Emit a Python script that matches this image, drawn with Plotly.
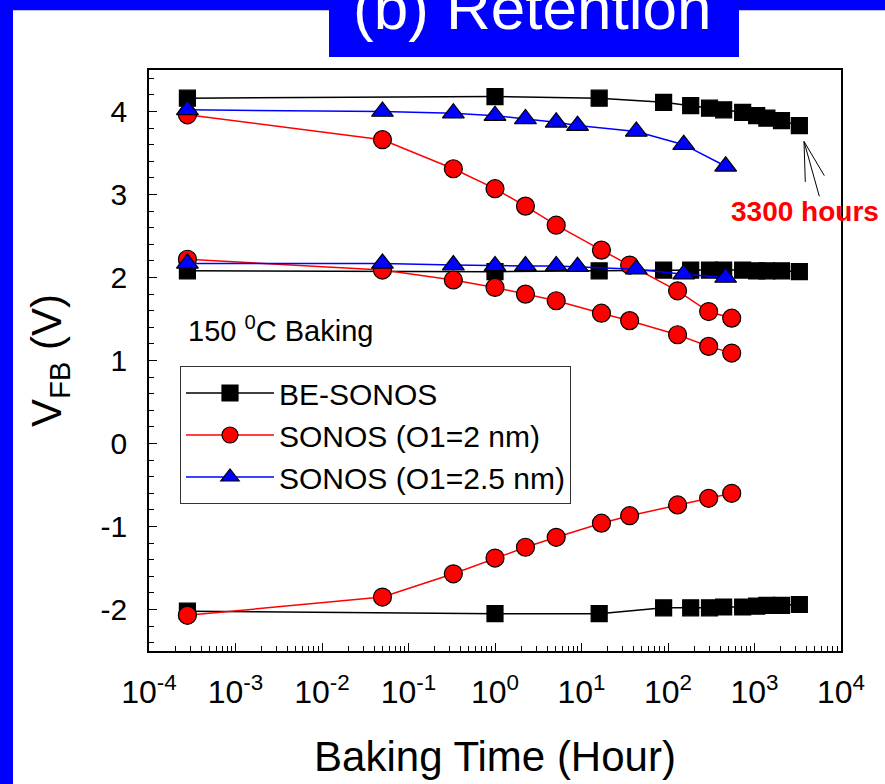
import plotly.graph_objects as go

# ---- data ----
t_be = [2.78e-4, 1, 16, 89, 183, 302, 440, 730, 1060, 1390, 2050, 3300]
be_prog = [4.16, 4.18, 4.16, 4.11, 4.07, 4.04, 4.02, 3.99, 3.95, 3.92, 3.89, 3.83]
be_mid = [2.08, 2.07, 2.08, 2.09, 2.09, 2.09, 2.09, 2.09, 2.08, 2.08, 2.08, 2.07]
be_ers = [-2.02, -2.05, -2.05, -1.98, -1.98, -1.98, -1.97, -1.97, -1.96, -1.95, -1.95, -1.94]

t_s2 = [2.78e-4, 0.05, 0.33, 1, 2.25, 5.1, 17, 36, 129, 295, 545]
s2_prog = [3.96, 3.66, 3.31, 3.07, 2.86, 2.63, 2.33, 2.15, 1.84, 1.59, 1.51]
s2_mid = [2.22, 2.09, 1.97, 1.88, 1.80, 1.72, 1.57, 1.48, 1.31, 1.17, 1.09]
s2_ers = [-2.07, -1.85, -1.57, -1.38, -1.25, -1.13, -0.96, -0.87, -0.74, -0.66, -0.60]

t_s25 = [2.78e-4, 0.05, 0.33, 1, 2.25, 5.1, 9, 43, 152, 464]
s25_prog = [4.02, 4.00, 3.98, 3.95, 3.91, 3.87, 3.83, 3.76, 3.60, 3.34]
s25_mid = [2.17, 2.17, 2.15, 2.14, 2.14, 2.14, 2.13, 2.10, 2.04, 2.00]

names = ["BE-SONOS", "SONOS (O1=2 nm)", "SONOS (O1=2.5 nm)"]
x_tickvals = [1e-4, 1e-3, 1e-2, 1e-1, 1e0, 1e1, 1e2, 1e3, 1e4]
x_ticktext = ["10<sup>-4</sup>", "10<sup>-3</sup>", "10<sup>-2</sup>", "10<sup>-1</sup>",
              "10<sup>0</sup>", "10<sup>1</sup>", "10<sup>2</sup>", "10<sup>3</sup>", "10<sup>4</sup>"]
y_tickvals = [-2, -1, 0, 1, 2, 3, 4]
y_ticktext = ["-2", "-1", "0", "1", "2", "3", "4"]

FONT = "Liberation Sans, Arial, sans-serif"

fig = go.Figure()

series = [
    (t_be, [be_prog, be_mid, be_ers], names[0], "black", "square", 16, "black"),
    (t_s2, [s2_prog, s2_mid, s2_ers], names[1], "red", "circle", 18, "red"),
    (t_s25, [s25_prog, s25_mid], names[2], "blue", "triangle-up", 19, "blue"),
]
for t, ys, name, lc, sym, sz, fc in series:
    for i, y in enumerate(ys):
        fig.add_trace(go.Scatter(
            x=t, y=y, mode="lines+markers", name=name, legendgroup=name,
            showlegend=(i == 0),
            line=dict(color=lc, width=1.5),
            marker=dict(symbol=sym, size=sz, color=fc,
                        line=dict(color="black", width=1.2)),
        ))

# paper-coordinate helpers for decorations (plot area 149..841 x 70..653 px)
def px(x):
    return (x - 149) / 692.0

def py(y):
    return (653 - y) / 583.0

shapes = [
    # blue frame strips
    dict(type="rect", xref="paper", yref="paper", x0=px(-5), x1=px(13), y0=py(800), y1=py(-5),
         fillcolor="#0000ff", line=dict(width=0), layer="above"),
    dict(type="rect", xref="paper", yref="paper", x0=px(-5), x1=px(890), y0=py(10), y1=py(-5),
         fillcolor="#0000ff", line=dict(width=0), layer="above"),
    # title box
    dict(type="rect", xref="paper", yref="paper", x0=px(329), x1=px(739), y0=py(57), y1=py(-5),
         fillcolor="#0000ff", line=dict(width=0), layer="above"),
    # pointer lines to the 3300 hours point
    dict(type="line", xref="paper", yref="paper", x0=px(804), y0=py(141.7), x1=px(805.3), y1=py(182.3),
         line=dict(color="black", width=1)),
    dict(type="line", xref="paper", yref="paper", x0=px(804), y0=py(141.7), x1=px(819.3), y1=py(196.7),
         line=dict(color="black", width=1)),
    dict(type="line", xref="paper", yref="paper", x0=px(804), y0=py(141.7), x1=px(824.3), y1=py(176),
         line=dict(color="black", width=1)),
]

annotations = [
    dict(text="(b) Retention", xref="paper", yref="paper", x=px(532), y=py(7),
         xanchor="center", yanchor="middle", showarrow=False,
         font=dict(family=FONT, size=62, color="white")),
    dict(text="<b>3300 hours</b>", xref="paper", yref="paper", x=px(729), y=py(212),
         xanchor="left", yanchor="middle", showarrow=False,
         font=dict(family=FONT, size=28, color="red")),
    dict(text="150 <sup>0</sup>C Baking", xref="paper", yref="paper", x=px(186), y=py(330),
         xanchor="left", yanchor="middle", showarrow=False,
         font=dict(family=FONT, size=29, color="black")),
]

fig.update_layout(
    width=885, height=784,
    margin=dict(l=149, r=44, t=70, b=131),
    paper_bgcolor="white", plot_bgcolor="white",
    font=dict(family=FONT, color="black"),
    shapes=shapes, annotations=annotations,
    legend=dict(x=px(180), y=py(367), xanchor="left", yanchor="top",
                bgcolor="white", bordercolor="#333333", borderwidth=1,
                font=dict(family=FONT, size=30), itemwidth=88,
                tracegroupgap=0),
    showlegend=True,
)

fig.update_xaxes(
    type="log", range=[-4, 4],
    tickvals=x_tickvals, ticktext=x_ticktext,
    ticks="inside", ticklen=8, tickwidth=1, tickcolor="black",
    minor=dict(ticks="inside", ticklen=5, tickwidth=1, tickcolor="black", dtick="D1"),
    showline=True, linecolor="black", linewidth=1.5, mirror=True,
    showgrid=False, zeroline=False,
    tickfont=dict(family=FONT, size=32),
    ticklabelstandoff=12,
    title=dict(text="Baking Time (Hour)", font=dict(family=FONT, size=42), standoff=32),
)
fig.update_yaxes(
    range=[-2.5, 4.5],
    tickvals=y_tickvals, ticktext=y_ticktext,
    ticks="inside", ticklen=8, tickwidth=1, tickcolor="black",
    minor=dict(ticks="inside", ticklen=5, tickwidth=1, tickcolor="black", dtick=0.2),
    showline=True, linecolor="black", linewidth=1.5, mirror=True,
    showgrid=False, zeroline=False,
    tickfont=dict(family=FONT, size=30),
    ticklabelstandoff=14,
    title=dict(text="V<sub>FB</sub> (V)", font=dict(family=FONT, size=42), standoff=26),
)

fig.write_html("out.html", config={"displayModeBar": False},
               post_script="document.body.style.margin='0';document.body.style.overflow='hidden';")
